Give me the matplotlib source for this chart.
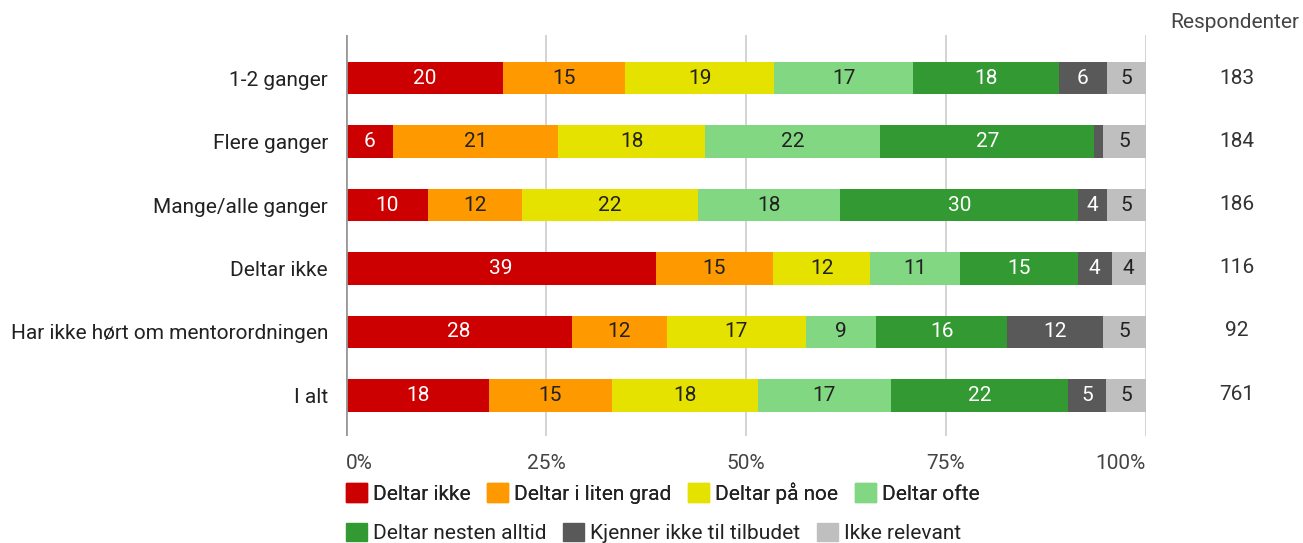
import matplotlib
matplotlib.use("Agg")
import matplotlib.pyplot as plt
from matplotlib.patches import Patch
import numpy as np

plt.rcParams['font.family'] = ['Roboto', 'DejaVu Sans']

categories = ["1-2 ganger", "Flere ganger", "Mange/alle ganger", "Deltar ikke",
              "Har ikke hørt om mentorordningen", "I alt"]
series_names = ["Deltar ikke", "Deltar i liten grad", "Deltar på noe", "Deltar ofte",
                "Deltar nesten alltid", "Kjenner ikke til tilbudet", "Ikke relevant"]
values = [
    [19.6, 15.3, 18.6, 17.4, 18.2, 6.0, 4.9],
    [5.9, 20.6, 18.4, 21.9, 26.7, 1.1, 5.4],
    [10.2, 11.8, 22.0, 17.8, 29.7, 3.6, 4.9],
    [38.7, 14.7, 12.1, 11.3, 14.7, 4.2, 4.3],
    [28.2, 11.9, 17.4, 8.8, 16.3, 12.0, 5.4],
    [17.9, 15.3, 18.3, 16.6, 22.2, 4.7, 5.0],
]
respondents = [183, 184, 186, 116, 92, 761]
xticks = [0, 25, 50, 75, 100]
xticklabels = ["0%", "25%", "50%", "75%", "100%"]

colors = ["#cc0000", "#ff9900", "#e6e200", "#82d882", "#339933", "#595959", "#bfbfbf"]
label_colors = ["white", "#222222", "#222222", "#222222", "white", "white", "#222222"]

FS = 15
fig = plt.figure(figsize=(13.03, 5.43), dpi=100)
W, H = 1303, 543
ax = fig.add_axes([346 / W, 1 - 436 / H, 800 / W, 401 / H])

vals = np.array(values)
y = np.arange(len(categories))
left = np.zeros(len(categories))
for j, name in enumerate(series_names):
    ax.barh(y, vals[:, j], left=left, height=0.51, color=colors[j], label=name, zorder=3)
    for i in range(len(categories)):
        v = vals[i, j]
        if v >= 2:
            ax.text(left[i] + v / 2, y[i], f"{round(v):d}", ha="center", va="center",
                    color=label_colors[j], fontsize=FS, zorder=4)
    left += vals[:, j]

ax.set_xlim(0, 100)
ax.set_ylim(5.64, -0.68)
ax.set_yticks(y)
ax.set_yticklabels(categories, fontsize=FS, color="#222222")
ax.set_xticks(xticks)
ax.set_xticklabels(xticklabels, fontsize=FS, color="#444444")
tl = ax.get_xticklabels()
tl[0].set_ha("left")
tl[-1].set_ha("right")
ax.tick_params(axis="both", length=0)
ax.tick_params(axis="y", pad=13)
ax.tick_params(axis="x", pad=13)
for s in ax.spines.values():
    s.set_visible(False)
for xv in xticks[1:]:
    ax.axvline(xv, color="#cccccc", lw=1.2, zorder=1)
ax.axvline(0, color="#999999", lw=2, zorder=5)

# respondents column
for i, r in enumerate(respondents):
    ax.text(1237 / W, 1 - (78 + i * 63.2) / H, str(r), transform=fig.transFigure,
            ha="center", va="center", fontsize=FS, color="#333333")
fig.text(1235 / W, 1 - 22 / H, "Respondenter", ha="center", va="center",
         fontsize=FS, color="#444444")

handles = [Patch(facecolor=c, edgecolor=c) for c in colors]
common = dict(loc="center left", frameon=False, fontsize=FS, handlelength=1.0,
              handleheight=1.0, handletextpad=0.3, columnspacing=0.8,
              borderaxespad=0, borderpad=0)
leg1 = fig.legend(handles[:4], series_names[:4], bbox_to_anchor=(346 / W, 1 - 493 / H),
                  ncol=4, **common)
leg2 = fig.legend(handles[4:], series_names[4:], bbox_to_anchor=(346 / W, 1 - 533 / H),
                  ncol=3, **common)
fig.add_artist(leg1)
for t in leg1.get_texts() + leg2.get_texts():
    t.set_color("#222222")

fig.savefig("out.png", dpi=100)
